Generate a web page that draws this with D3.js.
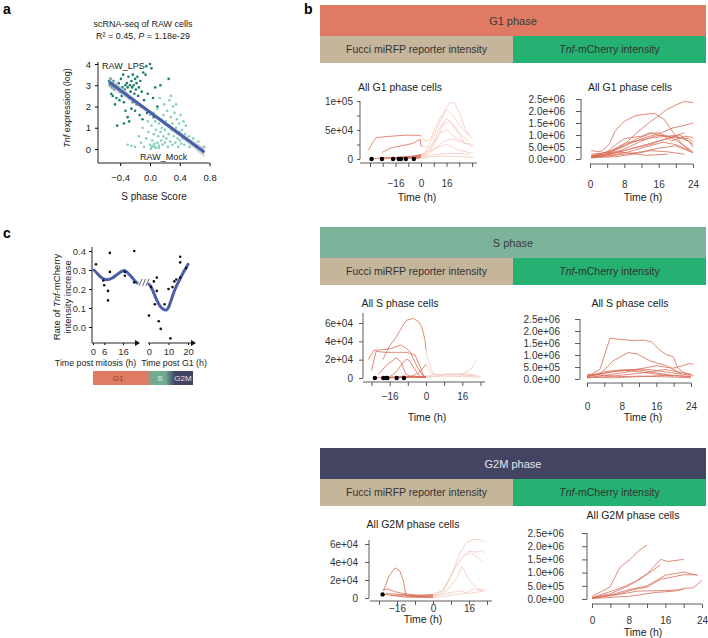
<!DOCTYPE html>
<html><head><meta charset="utf-8">
<script src="https://cdn.jsdelivr.net/npm/d3@7"></script>
<style>body{margin:0;background:#fff}svg{display:block;font-family:"Liberation Sans",Arial,Helvetica,sans-serif}</style>
</head><body><svg id="c" width="708" height="638"></svg>
<script>
// ---------------- DATA ----------------
// panel a : scRNA-seq scatter [S phase score, Tnf log expression]
const lpsPoints = [[-0.55,3.2],[-0.54,3.0],[-0.53,3.3],[-0.52,2.6],[-0.51,2.9],[-0.5,3.1],[-0.5,2.5],[-0.49,3.2],[-0.48,2.8],[-0.47,2.1],[-0.46,3.0],[-0.45,2.4],[-0.44,1.1],[-0.43,2.9],[-0.42,3.1],[-0.41,2.3],[-0.4,2.7],[-0.39,3.3],[-0.38,2.5],[-0.37,2.9],[-0.36,3.5],[-0.35,2.2],[-0.34,2.8],[-0.33,3.0],[-0.32,2.6],[-0.31,3.1],[-0.3,1.5],[-0.3,2.9],[-0.29,3.4],[-0.28,2.4],[-0.28,1.3],[-0.27,3.0],[-0.26,2.7],[-0.25,3.2],[-0.25,1.9],[-0.24,2.9],[-0.23,3.5],[-0.23,2.2],[-0.22,3.0],[-0.21,2.6],[-0.2,3.3],[-0.2,1.8],[-0.19,2.8],[-0.18,3.1],[-0.18,2.1],[-0.17,3.4],[-0.16,2.5],[-0.15,2.9],[-0.14,1.6],[-0.13,3.2],[-0.12,2.0],[-0.11,2.7],[-0.1,1.4],[-0.09,3.6],[-0.08,2.3],[-0.07,1.9],[-0.06,3.5],[-0.05,3.9],[-0.04,1.7],[-0.03,2.6],[0.0,4.0],[0.02,3.8],[0.04,2.4],[0.05,1.5],[0.07,2.9],[0.1,2.0],[0.14,3.0],[0.25,3.3],[-0.35,1.2],[-0.33,1.8]];
const mockPoints = [[-0.3,0.2],[-0.25,0.15],[-0.2,0.1],[-0.15,0.6],[-0.12,0.3],[-0.1,1.0],[-0.08,0.1],[-0.05,0.5],[-0.03,1.3],[-0.02,0.8],[0.0,0.2],[0.0,1.6],[0.01,0.0],[0.02,1.1],[0.03,0.4],[0.04,0.15],[0.05,1.7],[0.05,0.7],[0.06,0.25],[0.07,1.3],[0.08,0.05],[0.08,0.9],[0.09,1.5],[0.1,0.3],[0.1,1.9],[0.11,0.6],[0.12,1.2],[0.12,0.15],[0.13,2.4],[0.14,0.8],[0.15,1.4],[0.15,0.4],[0.16,1.0],[0.17,0.2],[0.18,1.6],[0.18,0.6],[0.19,2.1],[0.2,0.9],[0.2,0.3],[0.21,1.3],[0.22,0.5],[0.23,1.8],[0.24,0.1],[0.25,1.1],[0.25,0.7],[0.26,2.3],[0.27,0.35],[0.28,1.5],[0.29,0.9],[0.3,0.2],[0.3,1.2],[0.31,2.0],[0.32,0.6],[0.33,1.7],[0.34,0.3],[0.35,1.0],[0.36,1.4],[0.37,0.5],[0.38,0.1],[0.39,1.2],[0.4,0.8],[0.4,0.4],[0.41,1.6],[0.42,0.25],[0.43,0.9],[0.44,0.5],[0.45,1.3],[0.46,0.2],[0.47,0.7],[0.48,1.1],[0.5,0.4],[0.52,0.6],[0.53,0.1],[0.55,0.3],[0.58,0.5],[0.6,0.2],[0.62,0.15],[0.65,0.35],[0.7,0.05],[0.73,0.1],[0.28,2.5],[0.35,2.1],[0.12,0.05],[0.06,0.1],[0.02,0.1]];
const regX = [-0.55, 0.73];
const regY = [3.15, -0.15];
const bandX  = [-0.55,-0.4,-0.2,0,0.2,0.4,0.6,0.73];
const bandLo = [2.88,2.56,2.11,1.63,1.10,0.57,0.0,-0.40];
const bandHi = [3.42,2.96,2.37,1.83,1.30,0.81,0.34,0.10];
const aXTicks = [-0.4,0.0,0.4,0.8];
const aXTickLabels = ["\u22120.4","0.0","0.4","0.8"];
const aYTicks = [0,1,2,3,4];

// panel c : rate of Tnf-mCherry increase
const cLeftPoints  = [[1.6,0.33],[5.5,0.245],[6,0.22],[8,0.19],[8,0.14],[9,0.39],[9,0.29],[17,0.29],[17,0.27],[22,0.40],[22,0.235]];
const cRightPoints = [[0,0.06],[1,0.21],[2.5,0.24],[3,0.12],[4,0.26],[4,0.19],[5,0.03],[6,-0.01],[8,0.12],[10,0.2],[11,-0.06],[12,0.21],[13,0.24],[14,0.25],[16,0.26],[16,0.37],[16,0.34],[19,0.31]];
const cLeftCurve  = [[0.5,0.30],[2,0.285],[4,0.262],[6,0.25],[8,0.248],[10,0.255],[12,0.27],[14,0.285],[16,0.297],[17,0.298],[18,0.29],[20,0.27],[22,0.245],[23.5,0.232]];
const cRightCurve = [[0,0.225],[1,0.215],[2,0.19],[3,0.165],[4,0.14],[5,0.12],[6,0.105],[7,0.095],[8,0.09],[9,0.088],[10,0.1],[11,0.13],[12,0.16],[13,0.19],[14,0.215],[15,0.235],[16,0.255],[17,0.275],[18,0.295],[19,0.31],[20,0.33]];
const cYTicks = [0.0,0.1,0.2,0.3,0.4];
const cLeftTicks = [0,6,16];
const cRightTicks = [0,10,20];

// panel b : Fucci miRFP reporter traces [time h, intensity]
const g1FucciPre = [
 [[-33,15000],[-30,30000],[-28,37000],[-20,39000],[-10,41000],[-1,41000],[0,40000]],
 [[-24.5,11000],[-20,18000],[-16,21000],[-10,24000],[-5,27000],[-2,32000],[-0.5,34000],[0,22000]],
 [[-31,0],[-25,2000],[-15,3000],[-5,4000],[0,5000]],
 [[-24.5,0],[-15,2500],[-5,5000],[0,7000]],
 [[-17.5,0],[-10,3000],[0,6000]],
 [[-14,0],[-8,2000],[0,3000]],
 [[-12.6,0],[-5,4000],[0,8000]],
 [[-9.5,0],[-4,2000],[0,4000]],
 [[-4.5,0],[0,2000]]
];
const g1FucciPost = [
 [[0,40000],[3,30000],[6,35000],[10,60000],[14,80000],[18,97000],[21,97000],[24,80000],[28,50000],[32,35000]],
 [[0,22000],[4,20000],[8,40000],[12,65000],[16,85000],[20,75000],[24,60000],[30,40000]],
 [[0,5000],[4,15000],[8,30000],[12,55000],[16,70000],[20,60000],[24,45000],[30,30000]],
 [[0,7000],[5,10000],[10,35000],[14,60000],[18,65000],[22,50000],[28,25000]],
 [[0,6000],[6,20000],[12,45000],[16,50000],[20,40000],[26,30000],[33,20000]],
 [[0,3000],[8,15000],[14,30000],[20,35000],[26,28000],[33,25000]],
 [[0,8000],[10,20000],[16,25000],[24,15000],[32,10000]],
 [[0,4000],[10,8000],[20,10000],[30,8000]],
 [[0,2000],[12,5000],[24,4000],[33,3000]]
];
const g1FucciDots = [-31,-24.5,-17.5,-14,-12.6,-9.5,-4.5];

const sFucciPre = [
 [[-19,20000],[-16,35000],[-13,45000],[-10,58000],[-8.5,63000],[-5.6,65000],[-3.5,62000],[-1.9,56000],[-0.4,41000],[0,30000]],
 [[-25.5,20000],[-23,30000],[-19,31000],[-15.6,32000],[-11.2,36000],[-9,33000],[-6.8,28000],[-3.9,12000],[-1.5,3000],[0,1000]],
 [[-24,8000],[-22,29000],[-18,28000],[-13,28000],[-8.5,28000],[-4.8,25000],[-2.5,12000],[-1,2000],[0,1000]],
 [[-21,4000],[-17,15000],[-13,22000],[-11,17000],[-8.8,4000],[-6,1000],[0,500]],
 [[-16,1000],[-13,7000],[-11,14000],[-8.5,21000],[-7,18000],[-5.6,12000],[-2.6,1000],[0,500]],
 [[-12.9,0],[-8,1000],[-4,4000],[-2,9000],[0,15000]],
 [[-22.5,0],[-15,1000],[-8,1500],[0,1000]],
 [[-18.8,0],[-10,500],[0,1500]],
 [[-17.6,0],[-10,2000],[-4,1000],[0,500]],
 [[-9.7,0],[-5,1500],[0,2000]]
];
const sFucciPost = [
 [[0,30000],[1,19000],[3,5000],[6,3000],[10,4000],[16,3000],[22,2000]],
 [[0,15000],[2,5000],[6,3000],[12,4000],[18,5000],[22,3000]],
 [[0,1000],[5,2000],[10,5000],[14,4000],[18,3000],[24,2000]],
 [[0,2000],[6,4000],[12,3000],[16,5000],[20,10000],[22,19000]],
 [[0,1000],[8,2000],[16,1500],[24,1000]]
];
const sFucciDots = [-22.5,-18.8,-17.6,-17,-12.9,-9.7];

const g2mFucciPre = [
 [[-22,8000],[-19.4,25000],[-16.9,33500],[-14.7,30000],[-13.2,19000],[-12,3000],[-10,1500],[0,2000]],
 [[-22.3,9000],[-20,10000],[-17,7000],[-13,5000],[-8,3500],[0,3000]],
 [[-22.4,4000],[-18,3000],[-12,2000],[-6,2500],[0,4000]],
 [[-21,5000],[-15,4000],[-8,2000],[0,1000]],
 [[-19,3000],[-12,1000],[-5,500],[0,500]],
 [[-15,4000],[-10,3000],[-4,2000],[0,2500]]
];
const g2mFucciPost = [
 [[0,4000],[4,8000],[8,25000],[12,50000],[15,62000],[18,65000],[21,65000],[22,62000],[23,64000]],
 [[0,2000],[5,10000],[9,30000],[13,45000],[16,52000],[19,51000],[22,53000],[23,50000]],
 [[0,3000],[5,9000],[10,35000],[14,48000],[17,50000],[20,45000],[22,40000]],
 [[0,1000],[6,8000],[10,20000],[13,35000],[16,20000],[20,10000],[23,9000]],
 [[0,2000],[6,5000],[12,8000],[16,5000],[23,8000]],
 [[0,500],[8,3000],[14,5000],[18,10000],[22,8000]]
];
const g2mFucciDots = [[-22.4,4000]];

// Tnf-mCherry traces [time h, intensity x1e6]
const g1Tnf = [
 [[0.3,0.35],[2,0.3],[3,0.35],[4.6,0.65],[5.8,1.15],[7.8,1.55],[10.5,1.8],[13,1.87],[15,1.9],[17.3,1.65],[19.4,1.1],[21.3,0.65],[23.6,0.35]],
 [[0.3,0.1],[3,0.15],[6,0.4],[8,0.6],[10,0.95],[12,1.25],[14,1.55],[16,1.8],[17.8,2.05],[20,2.25],[22,2.4],[24,2.35]],
 [[0.3,0.15],[4,0.2],[7,0.45],[10,0.7],[13,0.9],[16,1.05],[19.4,1.3],[22,1.4],[24,1.5]],
 [[0.3,0.05],[3,0.15],[6,0.6],[8,0.85],[10,0.9],[12,0.95],[14,1.1],[16,1.0],[18,0.95],[20,0.9],[23,0.85],[24,0.7]],
 [[0.3,0.1],[4,0.3],[8,0.55],[11,0.85],[14,1.05],[16,1.1],[19,0.75],[22,0.95],[24,0.9]],
 [[0.3,0.12],[5,0.35],[8,0.65],[12,0.8],[15,0.9],[18,0.95],[21,1.0],[24,0.6]],
 [[0.3,0.05],[4,0.2],[8,0.35],[12,0.55],[16,0.75],[19,0.9],[22,1.1]],
 [[0.3,0.08],[6,0.25],[10,0.45],[14,0.6],[17,0.8],[20,0.95],[23,0.75],[24,0.5]],
 [[0.3,0.05],[5,0.15],[9,0.3],[13,0.5],[17,0.7],[20,0.6],[24,0.3]],
 [[0.3,0.1],[4,0.12],[8,0.2],[12,0.3],[16,0.45],[20,0.55],[24,0.25]],
 [[0.3,0.05],[6,0.1],[10,0.2],[14,0.35],[18,0.3],[22,0.2]],
 [[0.3,0.1],[5,0.2],[9,0.5],[12,0.75],[15,0.95],[17,1.0],[20,0.8],[23,0.4]],
 [[0.3,0.2],[3,0.25],[6,0.3],[9,0.25],[13,0.15],[18,0.2]]
];
const sTnf = [
 [[0,0.1],[3,0.4],[5.3,1.7],[7.6,1.65],[10.7,1.6],[13,1.62],[14.9,1.55],[16.8,1.2],[18.5,1.0],[19.9,0.93],[21,0.45],[22.5,0.25],[24.6,0.15]],
 [[0,0.1],[3,0.2],[6,0.75],[9.5,1.1],[11.5,1.05],[14.6,0.75],[18.4,0.55],[21.9,0.2]],
 [[0,0.05],[4,0.15],[8,0.25],[10.7,0.35],[13,0.45],[16,0.55],[19.9,0.45],[22,0.55],[23.7,0.65],[24.5,0.6]],
 [[0,0.1],[4,0.25],[7,0.35],[10,0.4],[13,0.35],[16,0.25],[20,0.15],[24,0.1]],
 [[0,0.15],[3,0.2],[6,0.3],[9,0.35],[12,0.42],[15,0.38],[18,0.3],[22,0.2],[24,0.15]],
 [[0,0.05],[5,0.1],[10,0.2],[15,0.3],[18,0.4],[21,0.3],[24,0.2]],
 [[0,0.2],[4,0.15],[8,0.1],[12,0.12],[16,0.1],[20,0.08],[24,0.05]],
 [[0,0.08],[6,0.05],[12,0.1],[18,0.15],[24,0.1]],
 [[0,0.12],[4,0.3],[8,0.38],[12,0.3],[16,0.2],[20,0.12]]
];
const g2mTnf = [
 [[0,0.1],[3.9,0.45],[6.1,1.2],[8.3,1.5],[10,1.8],[12,2.05]],
 [[0,0.05],[4,0.2],[8,0.5],[12,0.95],[15,1.5],[16.5,1.42],[20,1.5]],
 [[0,0.05],[6,0.4],[10,0.7],[13,1.05],[15,1.3]],
 [[0,0.02],[4,0.15],[8,0.35],[12,0.5],[16,0.9],[20,1.02],[23,0.9]],
 [[0,0.02],[6,0.2],[9,0.35],[12,0.45],[15,0.75],[18,0.85],[20,0.92],[23,0.92]],
 [[0,0.02],[8,0.1],[14,0.25],[18,0.3],[20,0.4],[22,0.42],[23,0.55],[24,0.7]],
 [[0,0.05],[5,0.15],[10,0.3],[16,0.32],[20,0.35]]
];
const tnfYTicks = [0,0.5,1.0,1.5,2.0,2.5];
const tnfYLabels = ["0.0e+00","5.0e+05","1.0e+06","1.5e+06","2.0e+06","2.5e+06"];
const tnfXTicks = [0,4,8,12,16,20,24];
const tnfXLabelled = [0,8,16,24];
const fucciXTicksG1 = [-32,-24,-16,-8,0,8,16,24,32];
const fucciXTicks = [-24,-16,-8,0,8,16,24];
const fucciXLabelled = [-16,0,16];
const g1FucciYTicks = [0,25000,50000,75000,100000];
const g1FucciYLabels = {0:"0",50000:"5e+04",100000:"1e+05"};
const sFucciYTicks = [0,20000,40000,60000];
const sFucciYLabels = {0:"0",20000:"2e+04",40000:"4e+04",60000:"6e+04"};

// ---------------- DRAW ----------------
const svg = d3.select("#c");
const C = {g1:"#E07A62", beige:"#C5B59B", green:"#25B171", s:"#7EB39B", g2m:"#434462",
           dark:"#D96E58", faint:"#F5CFC4", lps:"#1C7C6B", mock:"#85CFBC", blue:"#4A5FA8"};
const minus = s => String(s).replace("-", "\u2212");

// panel labels
[["a",3,14],["b",304,14],["c",3,238]].forEach(([t,x,y]) =>
  svg.append("text").attr("x",x).attr("y",y).attr("font-size",14).attr("font-weight","bold").text(t));

// ===== panel a =====
(function(){
  const x = d3.scaleLinear().domain([-0.4,0.8]).range([120.2,209.6]);
  const y = d3.scaleLinear().domain([0,4]).range([149,64]);
  const g = svg.append("g");
  g.append("text").attr("x",143).attr("y",27).attr("text-anchor","middle").attr("font-size",9).attr("fill","#222").text("scRNA-seq of RAW cells");
  const t2 = g.append("text").attr("x",143).attr("y",39).attr("text-anchor","middle").attr("font-size",9).attr("fill","#222");
  t2.append("tspan").text("R\u00B2 = 0.45, ");
  t2.append("tspan").attr("font-style","italic").text("P");
  t2.append("tspan").text(" = 1.18e-29");
  g.selectAll(".m").data(mockPoints).join("circle").attr("cx",d=>x(d[0])).attr("cy",d=>y(d[1])).attr("r",1.3).attr("fill",C.mock);
  g.selectAll(".l").data(lpsPoints).join("circle").attr("cx",d=>x(d[0])).attr("cy",d=>y(d[1])).attr("r",1.3).attr("fill",C.lps);
  const band = bandX.map((v,i)=>[v,bandLo[i],bandHi[i]]);
  g.append("path").attr("d", d3.area().x(d=>x(d[0])).y0(d=>y(d[1])).y1(d=>y(d[2])).curve(d3.curveMonotoneX)(band))
    .attr("fill","#B8BCC8").attr("opacity",0.6);
  g.append("path").attr("d", d3.line().x(d=>x(d[0])).y(d=>y(d[1]))(regX.map((v,i)=>[v,regY[i]])))
    .attr("stroke",C.blue).attr("stroke-width",3).attr("fill","none");
  const ya = g.append("g").attr("transform","translate(98,0)")
    .call(d3.axisLeft(y).tickValues(aYTicks).tickSize(3).tickPadding(4).tickFormat(d3.format("d")));
  ya.select(".domain").remove();
  g.append("line").attr("x1",98).attr("x2",98).attr("y1",62).attr("y2",163).attr("stroke","#222");
  const xa = g.append("g").attr("transform","translate(0,163)")
    .call(d3.axisBottom(x).tickValues(aXTicks).tickSize(3).tickPadding(8).tickFormat((d,i)=>aXTickLabels[i]));
  xa.select(".domain").remove();
  g.append("line").attr("x1",98).attr("x2",x(0.8)).attr("y1",163).attr("y2",163).attr("stroke","#222");
  g.selectAll(".tick text").attr("font-size",9.5).attr("fill","#222").attr("font-family","Liberation Sans, Arial");
  g.append("text").attr("x",154).attr("y",200).attr("text-anchor","middle").attr("font-size",10).attr("fill","#222").text("S phase Score");
  const yt = g.append("text").attr("transform","translate(70,108) rotate(-90)").attr("text-anchor","middle").attr("font-size",9).attr("fill","#222");
  yt.append("tspan").attr("font-style","italic").text("Tnf");
  yt.append("tspan").text(" expression (log)");
  g.append("text").attr("x",102).attr("y",69).attr("font-size",9).attr("fill","#222").text("RAW_LPS");
  g.append("text").attr("x",140).attr("y",160).attr("font-size",9).attr("fill","#222").text("RAW_Mock");
})();

// ===== panel c =====
(function(){
  const y = d3.scaleLinear().domain([0,0.4]).range([327,251]);
  const xl = d3.scaleLinear().domain([0,16]).range([93,123]);
  const xr = d3.scaleLinear().domain([0,20]).range([149,188]);
  const g = svg.append("g");
  const ya = g.append("g").attr("transform","translate(92,0)")
    .call(d3.axisLeft(y).tickValues(cYTicks).tickSize(3).tickPadding(3).tickFormat(d3.format(".1f")));
  ya.select(".domain").remove();
  g.append("line").attr("x1",92).attr("x2",92).attr("y1",247).attr("y2",343).attr("stroke","#222");
  [[xl,cLeftTicks,92,135],[xr,cRightTicks,148,191]].forEach(([sc,tk,a,b])=>{
    const xa = g.append("g").attr("transform","translate(0,343)")
      .call(d3.axisBottom(sc).tickValues(tk).tickSize(2).tickPadding(3));
    xa.select(".domain").remove();
    g.append("line").attr("x1",a).attr("x2",b).attr("y1",343).attr("y2",343).attr("stroke","#222");
    g.append("path").attr("d",`M${b},${340}L${b+5},343L${b},346Z`).attr("fill","#111");
  });
  g.selectAll(".tick text").attr("font-size",9.5).attr("fill","#333").attr("font-family","Liberation Sans, Arial");
  const ln = d3.line().curve(d3.curveBasis);
  g.append("path").attr("d", ln(cLeftCurve.map(d=>[xl(d[0]),y(d[1])]))).attr("stroke",C.blue).attr("stroke-width",3).attr("fill","none").attr("stroke-linecap","round");
  g.append("path").attr("d", ln(cRightCurve.map(d=>[xr(d[0]),y(d[1])]))).attr("stroke",C.blue).attr("stroke-width",3).attr("fill","none").attr("stroke-linecap","round");
  // break marks
  [139,142.5,146].forEach(bx => g.append("line").attr("x1",bx).attr("x2",bx+3).attr("y1",286).attr("y2",279).attr("stroke","#555").attr("stroke-width",0.9));
  g.selectAll(".pl").data(cLeftPoints).join("circle").attr("cx",d=>xl(d[0])).attr("cy",d=>y(d[1])).attr("r",1.3).attr("fill","#111");
  g.selectAll(".pr").data(cRightPoints).join("circle").attr("cx",d=>xr(d[0])).attr("cy",d=>y(d[1])).attr("r",1.3).attr("fill","#111");
  g.append("text").attr("x",95.5).attr("y",366).attr("text-anchor","middle").attr("font-size",8.8).attr("fill","#222").text("Time post mitosis (h)");
  g.append("text").attr("x",174).attr("y",366).attr("text-anchor","middle").attr("font-size",8.8).attr("fill","#222").text("Time post G1 (h)");
  const t1 = g.append("text").attr("transform","translate(60,297) rotate(-90)").attr("text-anchor","middle").attr("font-size",9.5).attr("fill","#222");
  t1.append("tspan").text("Rate of ");
  t1.append("tspan").attr("font-style","italic").text("Tnf");
  t1.append("tspan").text("-mCherry");
  g.append("text").attr("transform","translate(71,297) rotate(-90)").attr("text-anchor","middle").attr("font-size",9.5).attr("fill","#222").text("intensity increase");
  // phase bar
  const defs = svg.append("defs");
  const gr = defs.append("linearGradient").attr("id","phg").attr("x1","0").attr("x2","1").attr("y1","0").attr("y2","0");
  [["0%",C.g1],["53%",C.g1],["60%","#6DAE93"],["72%","#6DAE93"],["82%",C.g2m],["100%",C.g2m]].forEach(([o,c])=>gr.append("stop").attr("offset",o).attr("stop-color",c));
  g.append("rect").attr("x",93).attr("y",371).attr("width",100).attr("height",14).attr("fill","url(#phg)");
  [["G1",118,"#8C3A28"],["S",160,"#E8F0EC"],["G2M",183,"#E2E2EA"]].forEach(([t,x,c])=>
    g.append("text").attr("x",x).attr("y",381).attr("text-anchor","middle").attr("font-size",8).attr("fill",c).text(t));
})();

// ===== panel b headers =====
function header(y0, label, col){
  svg.append("rect").attr("x",320).attr("y",y0).attr("width",386).attr("height",31).attr("fill",col);
  svg.append("rect").attr("x",320).attr("y",y0+31).attr("width",193).attr("height",27).attr("fill",C.beige);
  svg.append("rect").attr("x",513).attr("y",y0+31).attr("width",193).attr("height",27).attr("fill",C.green);
  svg.append("text").attr("x",513).attr("y",y0+19.5).attr("text-anchor","middle").attr("font-size",11)
    .attr("fill", col===C.g2m ? "#E6E6EE" : "#3A3A3A").text(label);
  svg.append("text").attr("x",416.5).attr("y",y0+48).attr("text-anchor","middle").attr("font-size",10.5).attr("fill","#333").text("Fucci miRFP reporter intensity");
  const t = svg.append("text").attr("x",609.5).attr("y",y0+48).attr("text-anchor","middle").attr("font-size",10.5).attr("fill","#333");
  t.append("tspan").attr("font-style","italic").text("Tnf");
  t.append("tspan").text("-mCherry intensity");
}
header(5,"G1 phase",C.g1);
header(227,"S phase",C.s);
header(448,"G2M phase",C.g2m);

// ===== small R-style panels =====
function rPanel(c){
  const g = svg.append("g");
  const x = d3.scaleLinear().domain(c.xd).range(c.xr);
  const y = d3.scaleLinear().domain(c.yd).range(c.yr);
  const line = d3.line().x(d=>x(d[0])).y(d=>y(d[1]));
  (c.faint||[]).forEach(l => g.append("path").attr("d",line(l)).attr("fill","none").attr("stroke",C.faint).attr("stroke-width",0.9));
  (c.dark||[]).forEach(l => g.append("path").attr("d",line(l)).attr("fill","none").attr("stroke",C.dark).attr("stroke-width",0.9).attr("opacity",0.9));
  (c.dots||[]).forEach(d => g.append("circle").attr("cx",x(d[0])).attr("cy",y(d[1])).attr("r",2.2).attr("fill","#000"));
  const ya = g.append("g").attr("transform",`translate(${c.ax},0)`)
    .call(d3.axisLeft(y).tickValues(c.yTicks).tickSize(c.ytl).tickPadding(c.ypad).tickFormat(c.yFmt));
  ya.select(".domain").remove();
  g.append("line").attr("x1",c.ax).attr("x2",c.ax).attr("y1",c.yExt[0]).attr("y2",c.yExt[1]).attr("stroke","#333").attr("stroke-width",0.8);
  const xa = g.append("g").attr("transform",`translate(0,${c.ay})`)
    .call(d3.axisBottom(x).tickValues(c.xTicks).tickSize(4).tickPadding(c.xpad).tickFormat(d=>c.xLab.includes(d)?minus(d):""));
  xa.select(".domain").remove();
  g.append("line").attr("x1",c.xExt[0]).attr("x2",c.xExt[1]).attr("y1",c.ay).attr("y2",c.ay).attr("stroke","#333").attr("stroke-width",0.8);
  g.selectAll(".tick line").attr("stroke","#333").attr("stroke-width",0.8);
  g.selectAll(".tick text").attr("font-size",10).attr("fill","#333").attr("font-family","Liberation Sans, Arial");
  g.append("text").attr("x",c.tx).attr("y",c.ty).attr("text-anchor","middle").attr("font-size",10.5).attr("fill","#222").text(c.title);
  g.append("text").attr("x",c.xtx).attr("y",c.xty).attr("text-anchor","middle").attr("font-size",10.5).attr("fill","#222").text("Time (h)");
}
const tnfFmt = d => tnfYLabels[tnfYTicks.indexOf(d)];

rPanel({xd:[-32,32],xr:[370,472],yd:[0,100000],yr:[159,101],ax:360,ay:163,xExt:[360,477],yExt:[101,159],
  xTicks:fucciXTicksG1,xLab:fucciXLabelled,yTicks:g1FucciYTicks,yFmt:d=>g1FucciYLabels[d]||"",ytl:3,ypad:4,xpad:13,
  faint:g1FucciPost,dark:g1FucciPre,dots:g1FucciDots.map(t=>[t,0]),title:"All G1 phase cells",tx:400,ty:91,xtx:417,xty:201});
rPanel({xd:[0,24],xr:[590,693],yd:[0,2.5],yr:[159,99],ax:581,ay:164,xExt:[590,693],yExt:[99,159],
  xTicks:tnfXTicks,xLab:tnfXLabelled,yTicks:tnfYTicks,yFmt:tnfFmt,ytl:5,ypad:11,xpad:13,
  dark:g1Tnf,title:"All G1 phase cells",tx:630,ty:91,xtx:643,xty:201});
rPanel({xd:[-24,24],xr:[371.5,480.5],yd:[0,60000],yr:[378,323],ax:363,ay:382,xExt:[363,485],yExt:[313,378],
  xTicks:fucciXTicks,xLab:fucciXLabelled,yTicks:sFucciYTicks,yFmt:d=>sFucciYLabels[d],ytl:4,ypad:6,xpad:7,
  faint:sFucciPost,dark:sFucciPre,dots:sFucciDots.map(t=>[t,0]),title:"All S phase cells",tx:400,ty:307,xtx:427,xty:421});
rPanel({xd:[0,24],xr:[587,691],yd:[0,2.5],yr:[379,319],ax:580,ay:383,xExt:[587,691],yExt:[319,379],
  xTicks:tnfXTicks,xLab:tnfXLabelled,yTicks:tnfYTicks,yFmt:tnfFmt,ytl:5,ypad:15,xpad:16,
  dark:sTnf,title:"All S phase cells",tx:630,ty:307,xtx:643,xty:421});
rPanel({xd:[-24,24],xr:[379,487],yd:[0,60000],yr:[598,544],ax:369,ay:601,xExt:[370,492],yExt:[540,598],
  xTicks:fucciXTicks,xLab:fucciXLabelled,yTicks:sFucciYTicks,yFmt:d=>sFucciYLabels[d],ytl:4,ypad:7,xpad:0,
  faint:g2mFucciPost,dark:g2mFucciPre,dots:g2mFucciDots,title:"All G2M phase cells",tx:413,ty:528,xtx:423,xty:623});
rPanel({xd:[0,24],xr:[592,702],yd:[0,2.5],yr:[599,533],ax:587,ay:604,xExt:[592,702],yExt:[533,599],
  xTicks:tnfXTicks,xLab:tnfXLabelled,yTicks:tnfYTicks,yFmt:tnfFmt,ytl:5,ypad:18,xpad:9,
  dark:g2mTnf,title:"All G2M phase cells",tx:633,ty:519,xtx:643,xty:636});
</script></body></html>
